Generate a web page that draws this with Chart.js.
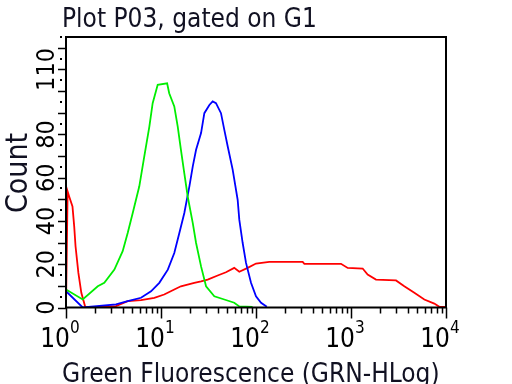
<!DOCTYPE html>
<html>
<head>
<meta charset="utf-8">
<script src="https://cdn.jsdelivr.net/npm/chart.js@4.4.1/dist/chart.umd.min.js"></script>
<style>
    html, body { margin: 0; padding: 0; background: #ffffff; }
    canvas { display: block; }
</style>
</head>
<body>
<canvas id="histogram" width="512" height="384"></canvas>
<script>
// Histogram values (fluorescence, count)
const greenX = [1, 1.5, 2.16, 2.53, 3.23, 3.95, 4.46, 5.04, 5.91, 6.67, 7.54, 8.17, 9.23, 11.6, 12.2, 13.8, 15, 16.2, 17.6, 19.1, 21.6, 23.4, 26.4, 29.8, 36.4, 46.4, 59, 66.7, 92];
const greenY = [8.3, 3.7, 9.8, 11.4, 17.5, 26, 34.4, 43.7, 56, 69.8, 83.6, 94.4, 102.9, 103.6, 99, 92.9, 83.6, 72.9, 62, 51.3, 39, 29.8, 19, 9.8, 5.2, 3.7, 2.2, 0.5, 0.3];

const blueX = [1, 1.5, 3.36, 4.46, 6.16, 7.85, 9.6, 11.8, 13.8, 15.6, 17.6, 19.9, 21.6, 23.4, 26.4, 28.6, 32.3, 35, 37.9, 42.8, 46.4, 50.4, 56.8, 64.1, 66.7, 72.4, 78.5, 88.6, 100, 113, 130];
const blueY = [7.5, 0, 1.4, 2.9, 4.5, 7.5, 11.4, 17.5, 25.2, 34.4, 43.7, 56, 65.2, 72.9, 80.6, 89.8, 93.6, 95.2, 94.4, 89.8, 82.1, 74.4, 63.7, 49.8, 40.6, 29.8, 20.6, 11.4, 5.2, 2.2, 0.3];

const redX = [1, 1.04, 1.08, 1.17, 1.22, 1.26, 1.35, 1.45, 1.6, 3.36, 4.46, 6.16, 8.5, 10.8, 13.8, 16.2, 22.4, 26.4, 31, 39.5, 48.3, 59, 66.7, 81.7, 100, 138, 310, 323, 785, 923, 1327, 1497, 1832, 2978, 3640, 4642, 5914, 7535, 8510, 9868];
const redY = [0, 53.6, 51.3, 46.7, 37.5, 28.3, 16, 6.8, 0, 0.6, 2.9, 3.4, 4.5, 6, 8.3, 9.8, 11.4, 12.1, 12.9, 14.8, 16.3, 18.3, 16.5, 18.3, 20.3, 21.1, 21.1, 20.2, 20.2, 18.3, 18, 15.2, 12.9, 12.5, 9.8, 6.8, 3.7, 1.8, 0.3, 0.3];

// Axis labelling
const xDecades = [0, 1, 2, 3, 4];
const yTickLabels = [0, 20, 40, 60, 80, 110];
const yMax = 125;

const titleText = 'Plot P03, gated on G1';
const xTitle = 'Green Fluorescence (GRN-HLog)';
const yTitle = 'Count';

const FONT = "'DejaVu Sans Condensed', 'DejaVu Sans', sans-serif";

function toPoints(xs, ys) {
    return xs.map((x, i) => ({ x: x, y: ys[i] }));
}

function series(label, xs, ys, color) {
    return {
        label: label,
        data: toPoints(xs, ys),
        borderColor: color,
        backgroundColor: color,
        borderWidth: 1.8,
        pointRadius: 0,
        showLine: true,
        tension: 0,
        fill: false,
    };
}

// Draws the frame, ticks and labels in the old cytometer style
const axesPlugin = {
    id: 'cytoAxes',
    afterDraw(chart) {
        const ctx = chart.ctx;
        const area = chart.chartArea;
        const xs = chart.scales.x;
        const ys = chart.scales.y;

        ctx.save();
        ctx.strokeStyle = '#000000';
        ctx.fillStyle = '#000000';
        ctx.lineWidth = 2;
        ctx.strokeRect(area.left, area.top, area.right - area.left, area.bottom - area.top);

        // x ticks: decades long, 2..9 short
        ctx.lineWidth = 1.5;
        ctx.beginPath();
        xDecades.forEach((d) => {
            const px = Math.round(xs.getPixelForValue(Math.pow(10, d))) + 0.5;
            ctx.moveTo(px, area.bottom);
            ctx.lineTo(px, area.bottom + 11);
            if (d < 4) {
                for (let m = 2; m <= 9; m++) {
                    const mx = Math.round(xs.getPixelForValue(m * Math.pow(10, d))) + 0.5;
                    ctx.moveTo(mx, area.bottom);
                    ctx.lineTo(mx, area.bottom + 6);
                }
            }
        });
        ctx.stroke();

        // y ticks: dash every 10, dot in between
        ctx.beginPath();
        for (let v = 0; v <= 120; v += 10) {
            const py = Math.round(ys.getPixelForValue(v)) + 0.5;
            ctx.moveTo(area.left - 8, py);
            ctx.lineTo(area.left, py);
        }
        ctx.stroke();
        for (let v = 5; v <= yMax; v += 10) {
            const py = Math.round(ys.getPixelForValue(v));
            ctx.fillRect(area.left - 6, py - 1, 2, 2);
        }

        // x tick labels 10^n
        xDecades.forEach((d) => {
            const px = xs.getPixelForValue(Math.pow(10, d));
            ctx.font = '26px ' + FONT;
            ctx.textAlign = 'right';
            ctx.textBaseline = 'alphabetic';
            ctx.fillText('10', px + 4, 347);
            ctx.font = '17px ' + FONT;
            ctx.textAlign = 'left';
            ctx.fillText(String(d), px + 4, 333);
        });

        // y tick labels, rotated
        ctx.font = '25px ' + FONT;
        yTickLabels.forEach((v) => {
            const py = ys.getPixelForValue(v);
            ctx.save();
            ctx.translate(54, py);
            ctx.rotate(-Math.PI / 2);
            ctx.textAlign = 'center';
            ctx.textBaseline = 'alphabetic';
            ctx.fillText(String(v), 0, 0);
            ctx.restore();
        });

        // titles
        ctx.fillStyle = '#111122';
        ctx.font = '26px ' + FONT;
        ctx.textAlign = 'left';
        ctx.textBaseline = 'alphabetic';
        ctx.fillText(titleText, 62, 27);
        ctx.fillText(xTitle, 62, 382);

        ctx.save();
        ctx.font = '30px ' + FONT;
        ctx.translate(27, 173);
        ctx.rotate(-Math.PI / 2);
        ctx.textAlign = 'center';
        ctx.fillText(yTitle, 0, 0);
        ctx.restore();

        ctx.restore();
    },
};

const canvas = document.getElementById('histogram');
new Chart(canvas.getContext('2d'), {
    type: 'scatter',
    data: {
        datasets: [
            series('green', greenX, greenY, '#00ee00'),
            series('blue', blueX, blueY, '#0000ff'),
            series('red', redX, redY, '#ff0000'),
        ],
    },
    options: {
        responsive: false,
        animation: false,
        devicePixelRatio: 1,
        layout: {
            padding: { left: 66, right: 66, top: 37, bottom: 76.5 },
        },
        plugins: {
            legend: { display: false },
            title: { display: false },
            tooltip: { enabled: false },
        },
        scales: {
            x: {
                type: 'logarithmic',
                min: 1,
                max: 10000,
                display: false,
            },
            y: {
                type: 'linear',
                min: 0,
                max: yMax,
                display: false,
            },
        },
    },
    plugins: [axesPlugin],
});
</script>
</body>
</html>
